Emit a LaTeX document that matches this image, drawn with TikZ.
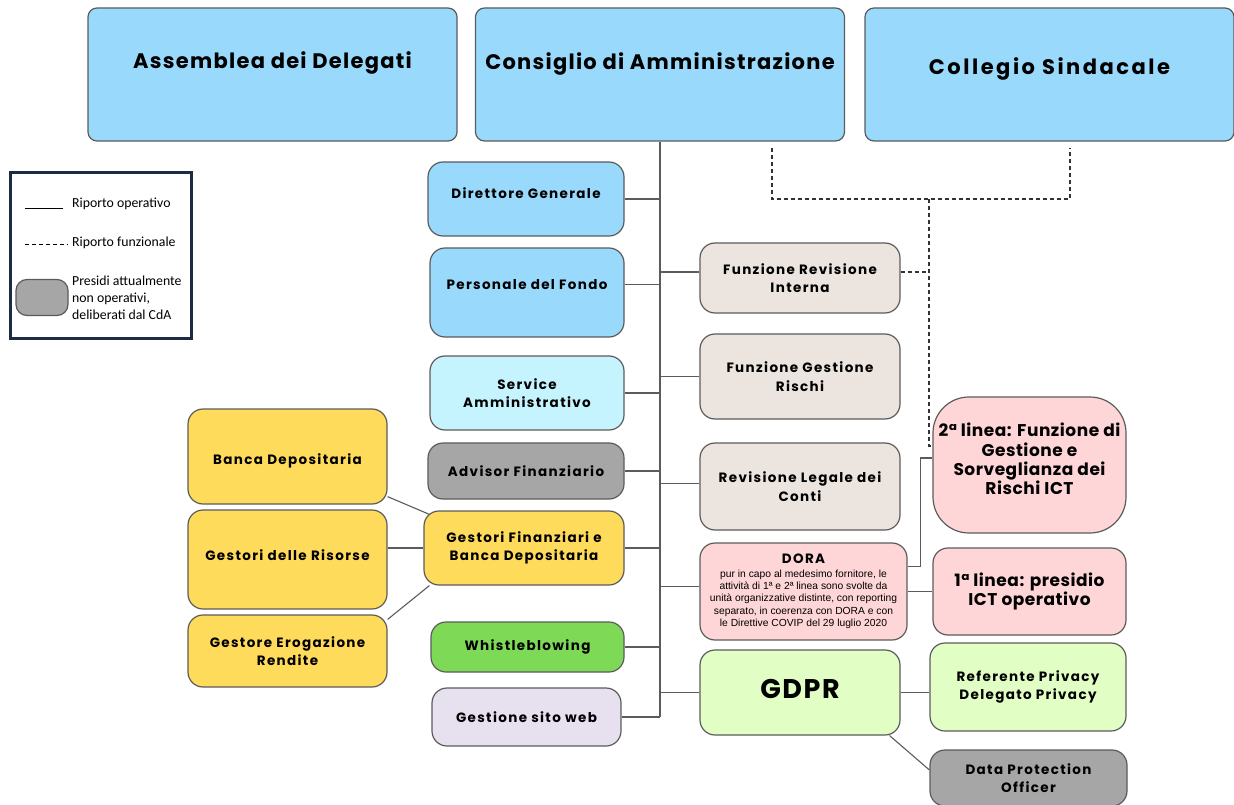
\documentclass[tikz,border=0pt]{standalone}
\usepackage{fontspec}
\setmainfont{Poppins}
\newfontfamily\boxfont{Poppins}[LetterSpace=10]
\newfontfamily\topfont{Poppins}[LetterSpace=6]
\newfontfamily\topwide{Poppins}[LetterSpace=12]
\newfontfamily\ictfont{Poppins}[LetterSpace=3]
\newfontfamily\dorafont{Liberation Sans}
\newfontfamily\legfont{Carlito}
\definecolor{edge}{HTML}{5B5B5B}
\definecolor{skyblue}{HTML}{99D9FC}
\definecolor{paleblue}{HTML}{C6F4FE}
\definecolor{stone}{HTML}{A6A6A6}
\definecolor{gold}{HTML}{FFDB5C}
\definecolor{leaf}{HTML}{7ED957}
\definecolor{lilac}{HTML}{E6E0EF}
\definecolor{sand}{HTML}{ECE4DE}
\definecolor{rose}{HTML}{FFD6D7}
\definecolor{mint}{HTML}{E1FEC5}
\definecolor{navy}{HTML}{1E2B45}
\begin{document}
\begin{tikzpicture}[x=1pt, y=-1pt,
  box/.style={draw=edge, line width=1.2pt, rounded corners=15pt, align=center,
    inner sep=2pt, font=\boxfont\bfseries\fontsize{13.5}{18.5}\selectfont},
  top/.style={box, fill=skyblue, rounded corners=9pt, minimum width=369pt, minimum height=133pt},
  lbl/.style={font=\topfont\bfseries\fontsize{21}{25}\selectfont},
  ict/.style={box, fill=rose, minimum width=193pt, font=\ictfont\bfseries\fontsize{17}{19.2}\selectfont},
  legtxt/.style={anchor=west, inner sep=0pt, align=left, font=\legfont\fontsize{13.8}{17}\selectfont},
  link/.style={draw=edge, line width=1.1pt},
  funz/.style={link, draw=black!80, dashed, dash pattern=on 4pt off 3pt}]
\useasboundingbox (0,0) rectangle (1234,805);
% organi
\node[top, label={[lbl, name=adt, yshift=12pt]center:Assemblea dei Delegati}] (ad) at (272.5,74.5) {};
\node[top, label={[lbl, name=cdat, yshift=11pt]center:Consiglio di Amministrazione}] (cda) at (660,74.5) {};
\node[top, label={[lbl, font=\topwide\bfseries\fontsize{21}{25}\selectfont, name=cst, yshift=6pt]center:Collegio Sindacale}] (cs) at (1049.5,74.5) {};
% legenda
\node[draw=navy, line width=3pt, minimum width=181pt, minimum height=165pt] (leg) at (100.5,255.5) {};
\draw[black, line width=.8pt] (25,208) -- (63,208);
\draw[black, line width=.8pt, dashed, dash pattern=on 4pt off 3pt] (25,244) -- (68,244);
\node[legtxt] (l1) at (72,204) {Riporto operativo};
\node[legtxt] (l2) at (72,243) {Riporto funzionale};
\node[box, fill=stone, rounded corners=11pt, minimum width=52pt, minimum height=36pt] (l3box) at (42,297.5) {};
\node[legtxt] (l3) at (72,298) {Presidi attualmente\\non operativi,\\deliberati dal CdA};
% colonna sinistra
\node[box, fill=skyblue, minimum width=196pt, minimum height=74pt,
  label={[box, draw=none, name=dgt, yshift=6pt]center:Direttore Generale}] (dg) at (526,199) {};
\node[box, fill=skyblue, minimum width=194pt, minimum height=89pt,
  label={[box, draw=none, name=pft, yshift=8pt]center:Personale del Fondo}] (pf) at (527,292.5) {};
\node[box, fill=paleblue, minimum width=194pt, minimum height=74pt] (sa) at (527,393) {Service\\Amministrativo};
\node[box, fill=stone, minimum width=196pt, minimum height=56pt] (af) at (526,471) {Advisor Finanziario};
\node[box, fill=gold, minimum width=200pt, minimum height=74pt] (gf) at (524,548) {Gestori Finanziari e\\Banca Depositaria};
\node[box, fill=leaf, minimum width=193pt, minimum height=50pt] (wb) at (527.5,647) {Whistleblowing};
\node[box, fill=lilac, minimum width=189pt, minimum height=58pt] (gs) at (526.5,717) {Gestione sito web};
% gestori
\node[box, fill=gold, minimum width=199pt, minimum height=95pt,
  label={[box, draw=none, name=bdt, yshift=-4pt]center:Banca Depositaria}] (bd) at (287.5,456.5) {};
\node[box, fill=gold, minimum width=199pt, minimum height=99pt,
  label={[box, draw=none, name=grt, yshift=4pt]center:Gestori delle Risorse}] (gr) at (287.5,559.5) {};
\node[box, fill=gold, minimum width=199pt, minimum height=72pt] (ge) at (287.5,651) {Gestore Erogazione\\Rendite};
% colonna destra
\node[box, fill=sand, minimum width=200pt, minimum height=70pt] (fri) at (800,278) {Funzione Revisione\\Interna};
\node[box, fill=sand, minimum width=200pt, minimum height=85pt] (fgr) at (800,376.5) {Funzione Gestione\\Rischi};
\node[box, fill=sand, minimum width=200pt, minimum height=87pt] (rlc) at (800,486.5) {Revisione Legale dei\\Conti};
\node[box, fill=rose, minimum width=207pt, minimum height=97pt,
  font=\dorafont\fontsize{10.3}{12.3}\selectfont] (dora) at (803.5,591.5)
  {{\boxfont\bfseries\fontsize{13.5}{14}\selectfont DORA}\\[1pt]pur in capo al medesimo fornitore, le\\attività di 1ª e 2ª linea sono svolte da\\unità organizzative distinte, con reporting\\separato, in coerenza con DORA e con\\le Direttive COVIP del 29 luglio 2020};
\node[box, fill=mint, minimum width=200pt, minimum height=85pt,
  label={[name=gdprt, yshift=4pt, font=\topfont\bfseries\fontsize{27}{30}\selectfont]center:GDPR}] (gdpr) at (800,692.5) {};
% ICT e privacy
\node[ict, minimum height=136pt, rounded corners=36pt,
  label={[ict, draw=none, fill=none, name=sect, yshift=6pt]center:2ª linea: Funzione di\\Gestione e\\Sorveglianza dei\\Rischi ICT}] (sec) at (1029.5,465) {};
\node[ict, minimum height=87pt] (fst) at (1029.5,591.5) {1ª linea: presidio\\ICT operativo};
\node[box, fill=mint, minimum width=196pt, minimum height=88pt] (rp) at (1028,687) {Referente Privacy\\Delegato Privacy};
\node[box, fill=stone, minimum width=197pt, minimum height=56pt] (dpo) at (1028.5,778) {Data Protection\\Officer};
% riporto operativo
\coordinate (fk) at (929,199);
\draw[link] (cda.south) -- (gs.east -| cda.south);
\foreach \n in {dg, sa, af, gf, wb, gs}
  \draw[link] (\n.east) -- (\n.east -| cda.south);
\draw[link] ([yshift=8pt]pf.east) -- ([yshift=8pt]pf.east -| cda.south);
\foreach \n/\s in {fri/6pt, fgr/0pt, rlc/3pt, dora/5pt, gdpr/0pt}
  \draw[link] ([yshift=\s]\n.west) -- ([yshift=\s]\n.west -| cda.south);
\draw[link] ([yshift=8pt]bd.south east) -- ([xshift=6pt, yshift=-4pt]gf.north west);
\draw[link] (gr.east |- gf.west) -- (gf.west);
\draw[link] ([yshift=-5pt]ge.north east) -- ([xshift=6pt]gf.south west);
\draw[link] ([yshift=25pt]dora.east) -- ++(13,0) |- ([yshift=7pt]sec.west);
\draw[link] (dora.east) -- (fst.west);
\draw[link] (gdpr.east) -- (gdpr.east -| rp.west);
\draw[link] ([xshift=-11pt]gdpr.south east) -- ([yshift=8pt]dpo.west);
% riporto funzionale
\draw[funz] ([xshift=112pt, yshift=-6pt]cda.south) |- ([xshift=20.5pt]cs.south |- fk) -- ([xshift=20.5pt, yshift=-6pt]cs.south);
\draw[funz] (fk) |- ([yshift=19pt]sec.west);
\draw[funz] ([yshift=6pt]fri.east) -- ([yshift=6pt]fri.east -| fk);
\end{tikzpicture}
\end{document}
